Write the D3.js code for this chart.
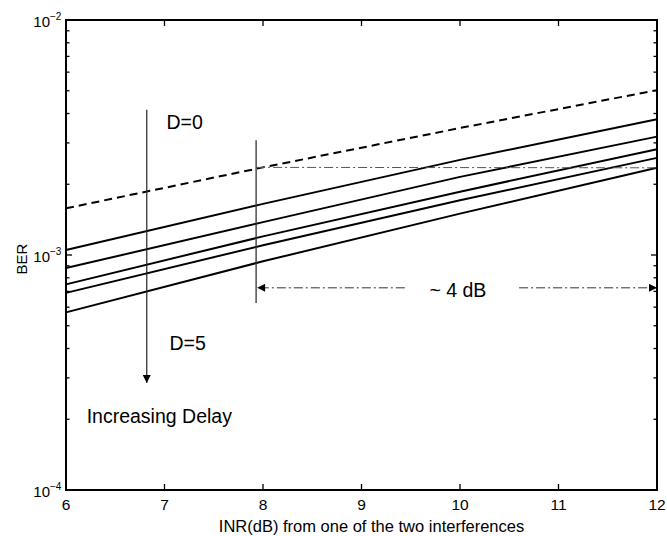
<!DOCTYPE html>
<html>
<head>
<meta charset="utf-8">
<script src="https://cdn.jsdelivr.net/npm/d3@7"></script>
<style>
  html, body { margin: 0; padding: 0; background: #fff; }
  svg { display: block; font-family: "Liberation Sans", Arial, Helvetica, sans-serif; }
</style>
</head>
<body>
<svg id="chart" width="667" height="536"></svg>
<script>
// ---- data ----
const inr = [6, 8, 10, 12];                       // INR (dB)
const berRef = [1.58e-3, 2.36e-3, 3.47e-3, 5.03e-3]; // dashed reference curve
const berDelay = [                                 // D=0 ... D=5 (top to bottom)
  [1.05e-3, 1.65e-3, 2.54e-3, 3.78e-3],
  [0.88e-3, 1.38e-3, 2.15e-3, 3.19e-3],
  [0.75e-3, 1.20e-3, 1.86e-3, 2.82e-3],
  [0.69e-3, 1.10e-3, 1.71e-3, 2.59e-3],
  [0.57e-3, 0.94e-3, 1.50e-3, 2.35e-3],
];
const xTicks = [6, 7, 8, 9, 10, 11, 12];
const yMajor = [1e-4, 1e-3, 1e-2];
const yExp = ["\u22124", "\u22123", "\u22122"];

// annotation anchors (data units)
const delayArrow = { x: 6.82, y0: 4.15e-3, y1: 2.85e-4 };
const gapStart = 7.93;        // where the ~4 dB span starts
const gapArrowY = 7.25e-4;    // height of the ~4 dB arrow
const gapBar = { y0: 3.08e-3, y1: 6.25e-4 };

const W = 667, H = 536;
const margin = { top: 20, right: 10, bottom: 46, left: 66 };

const svg = d3.select("#chart");

const x = d3.scaleLinear().domain([6, 12]).range([margin.left, W - margin.right]);
const y = d3.scaleLog().domain([1e-4, 1e-2]).range([H - margin.bottom, margin.top]);

const x0 = x.range()[0], x1 = x.range()[1];
const yb = y.range()[0], yt = y.range()[1];

// ---- ticks (inward, on all four sides) ----
const minorY = [];
for (const dec of [1e-4, 1e-3]) for (let k = 2; k <= 9; k++) minorY.push(k * dec);

const tickG = svg.append("g").attr("stroke", "#000").attr("stroke-width", 1.3);
for (const t of xTicks) {
  tickG.append("line").attr("x1", x(t)).attr("x2", x(t)).attr("y1", yb).attr("y2", yb - 6);
  tickG.append("line").attr("x1", x(t)).attr("x2", x(t)).attr("y1", yt).attr("y2", yt + 6);
}
for (const t of yMajor) {
  tickG.append("line").attr("x1", x0).attr("x2", x0 + 6).attr("y1", y(t)).attr("y2", y(t));
  tickG.append("line").attr("x1", x1).attr("x2", x1 - 6).attr("y1", y(t)).attr("y2", y(t));
}
for (const t of minorY) {
  tickG.append("line").attr("x1", x0).attr("x2", x0 + 3.5).attr("y1", y(t)).attr("y2", y(t));
  tickG.append("line").attr("x1", x1).attr("x2", x1 - 3.5).attr("y1", y(t)).attr("y2", y(t));
}

// tick labels
svg.append("g").selectAll("text").data(xTicks).join("text")
  .attr("x", d => x(d)).attr("y", yb + 20)
  .attr("text-anchor", "middle").attr("font-size", 15.5).attr("fill", "#000")
  .text(d => d);

const yl = svg.append("g");
yMajor.forEach((t, i) => {
  yl.append("text").attr("x", x0 - 16).attr("y", y(t) + 7)
    .attr("text-anchor", "end").attr("font-size", 15).text("10");
  yl.append("text").attr("x", x0 - 16).attr("y", y(t))
    .attr("text-anchor", "start").attr("font-size", 10).text(yExp[i]);
});

// axis titles
svg.append("text")
  .attr("x", (x0 + x1) / 2 + 10).attr("y", H - 4)
  .attr("text-anchor", "middle").attr("font-size", 16.5)
  .text("INR(dB) from one of the two interferences");

svg.append("text")
  .attr("transform", `translate(27,${y(1e-3) + 4}) rotate(-90)`)
  .attr("text-anchor", "middle").attr("font-size", 15)
  .text("BER");

// ---- curves ----
const line = d3.line().x((d, i) => x(inr[i])).y(d => y(d));

svg.append("path").datum(berRef)
  .attr("d", line).attr("fill", "none")
  .attr("stroke", "#000").attr("stroke-width", 2)
  .attr("stroke-dasharray", "8,5");

svg.append("g").selectAll("path").data(berDelay).join("path")
  .attr("d", line).attr("fill", "none")
  .attr("stroke", "#000").attr("stroke-width", 2);

// ---- annotations ----
svg.append("defs").append("marker")
  .attr("id", "head").attr("viewBox", "0 0 10 10")
  .attr("refX", 10).attr("refY", 5)
  .attr("markerWidth", 10).attr("markerHeight", 8)
  .attr("markerUnits", "userSpaceOnUse")
  .attr("orient", "auto-start-reverse")
  .append("path").attr("d", "M0,0 L10,5 L0,10 z").attr("fill", "#000");

// increasing-delay arrow
svg.append("line")
  .attr("x1", x(delayArrow.x)).attr("x2", x(delayArrow.x))
  .attr("y1", y(delayArrow.y0)).attr("y2", y(delayArrow.y1))
  .attr("stroke", "#222").attr("stroke-width", 1.2)
  .attr("marker-end", "url(#head)");

// horizontal reference from dashed curve at 8 dB
svg.append("line")
  .attr("x1", x(gapStart)).attr("x2", x1)
  .attr("y1", y(berRef[1])).attr("y2", y(berDelay[4][3]))
  .attr("stroke", "#555").attr("stroke-width", 1)
  .attr("stroke-dasharray", "9,3,2,3");

// vertical bar at start of span
svg.append("line")
  .attr("x1", x(gapStart)).attr("x2", x(gapStart))
  .attr("y1", y(gapBar.y0)).attr("y2", y(gapBar.y1))
  .attr("stroke", "#333").attr("stroke-width", 1.3);

// ~4 dB span arrows
const ga = y(gapArrowY);
svg.append("line")
  .attr("x1", x(9.44)).attr("x2", x(gapStart) + 1)
  .attr("y1", ga).attr("y2", ga)
  .attr("stroke", "#333").attr("stroke-width", 1)
  .attr("stroke-dasharray", "9,3,2,3")
  .attr("marker-end", "url(#head)");
svg.append("line")
  .attr("x1", x(10.6)).attr("x2", x1)
  .attr("y1", ga).attr("y2", ga)
  .attr("stroke", "#333").attr("stroke-width", 1)
  .attr("stroke-dasharray", "9,3,2,3")
  .attr("marker-end", "url(#head)");

const labels = [
  { t: "D=0", x: 7.02, v: 3.44e-3 },
  { t: "D=5", x: 7.05, v: 3.94e-4 },
  { t: "Increasing Delay", x: 6.21, v: 1.93e-4 },
  { t: "~ 4 dB", x: 9.69, v: 6.65e-4 },
];
svg.append("g").selectAll("text").data(labels).join("text")
  .attr("x", d => x(d.x)).attr("y", d => y(d.v))
  .attr("font-size", 19.5).attr("fill", "#000")
  .text(d => d.t);

// ---- frame ----
svg.append("rect")
  .attr("x", x0).attr("y", yt).attr("width", x1 - x0).attr("height", yb - yt)
  .attr("fill", "none").attr("stroke", "#000").attr("stroke-width", 2);
</script>
</body>
</html>
